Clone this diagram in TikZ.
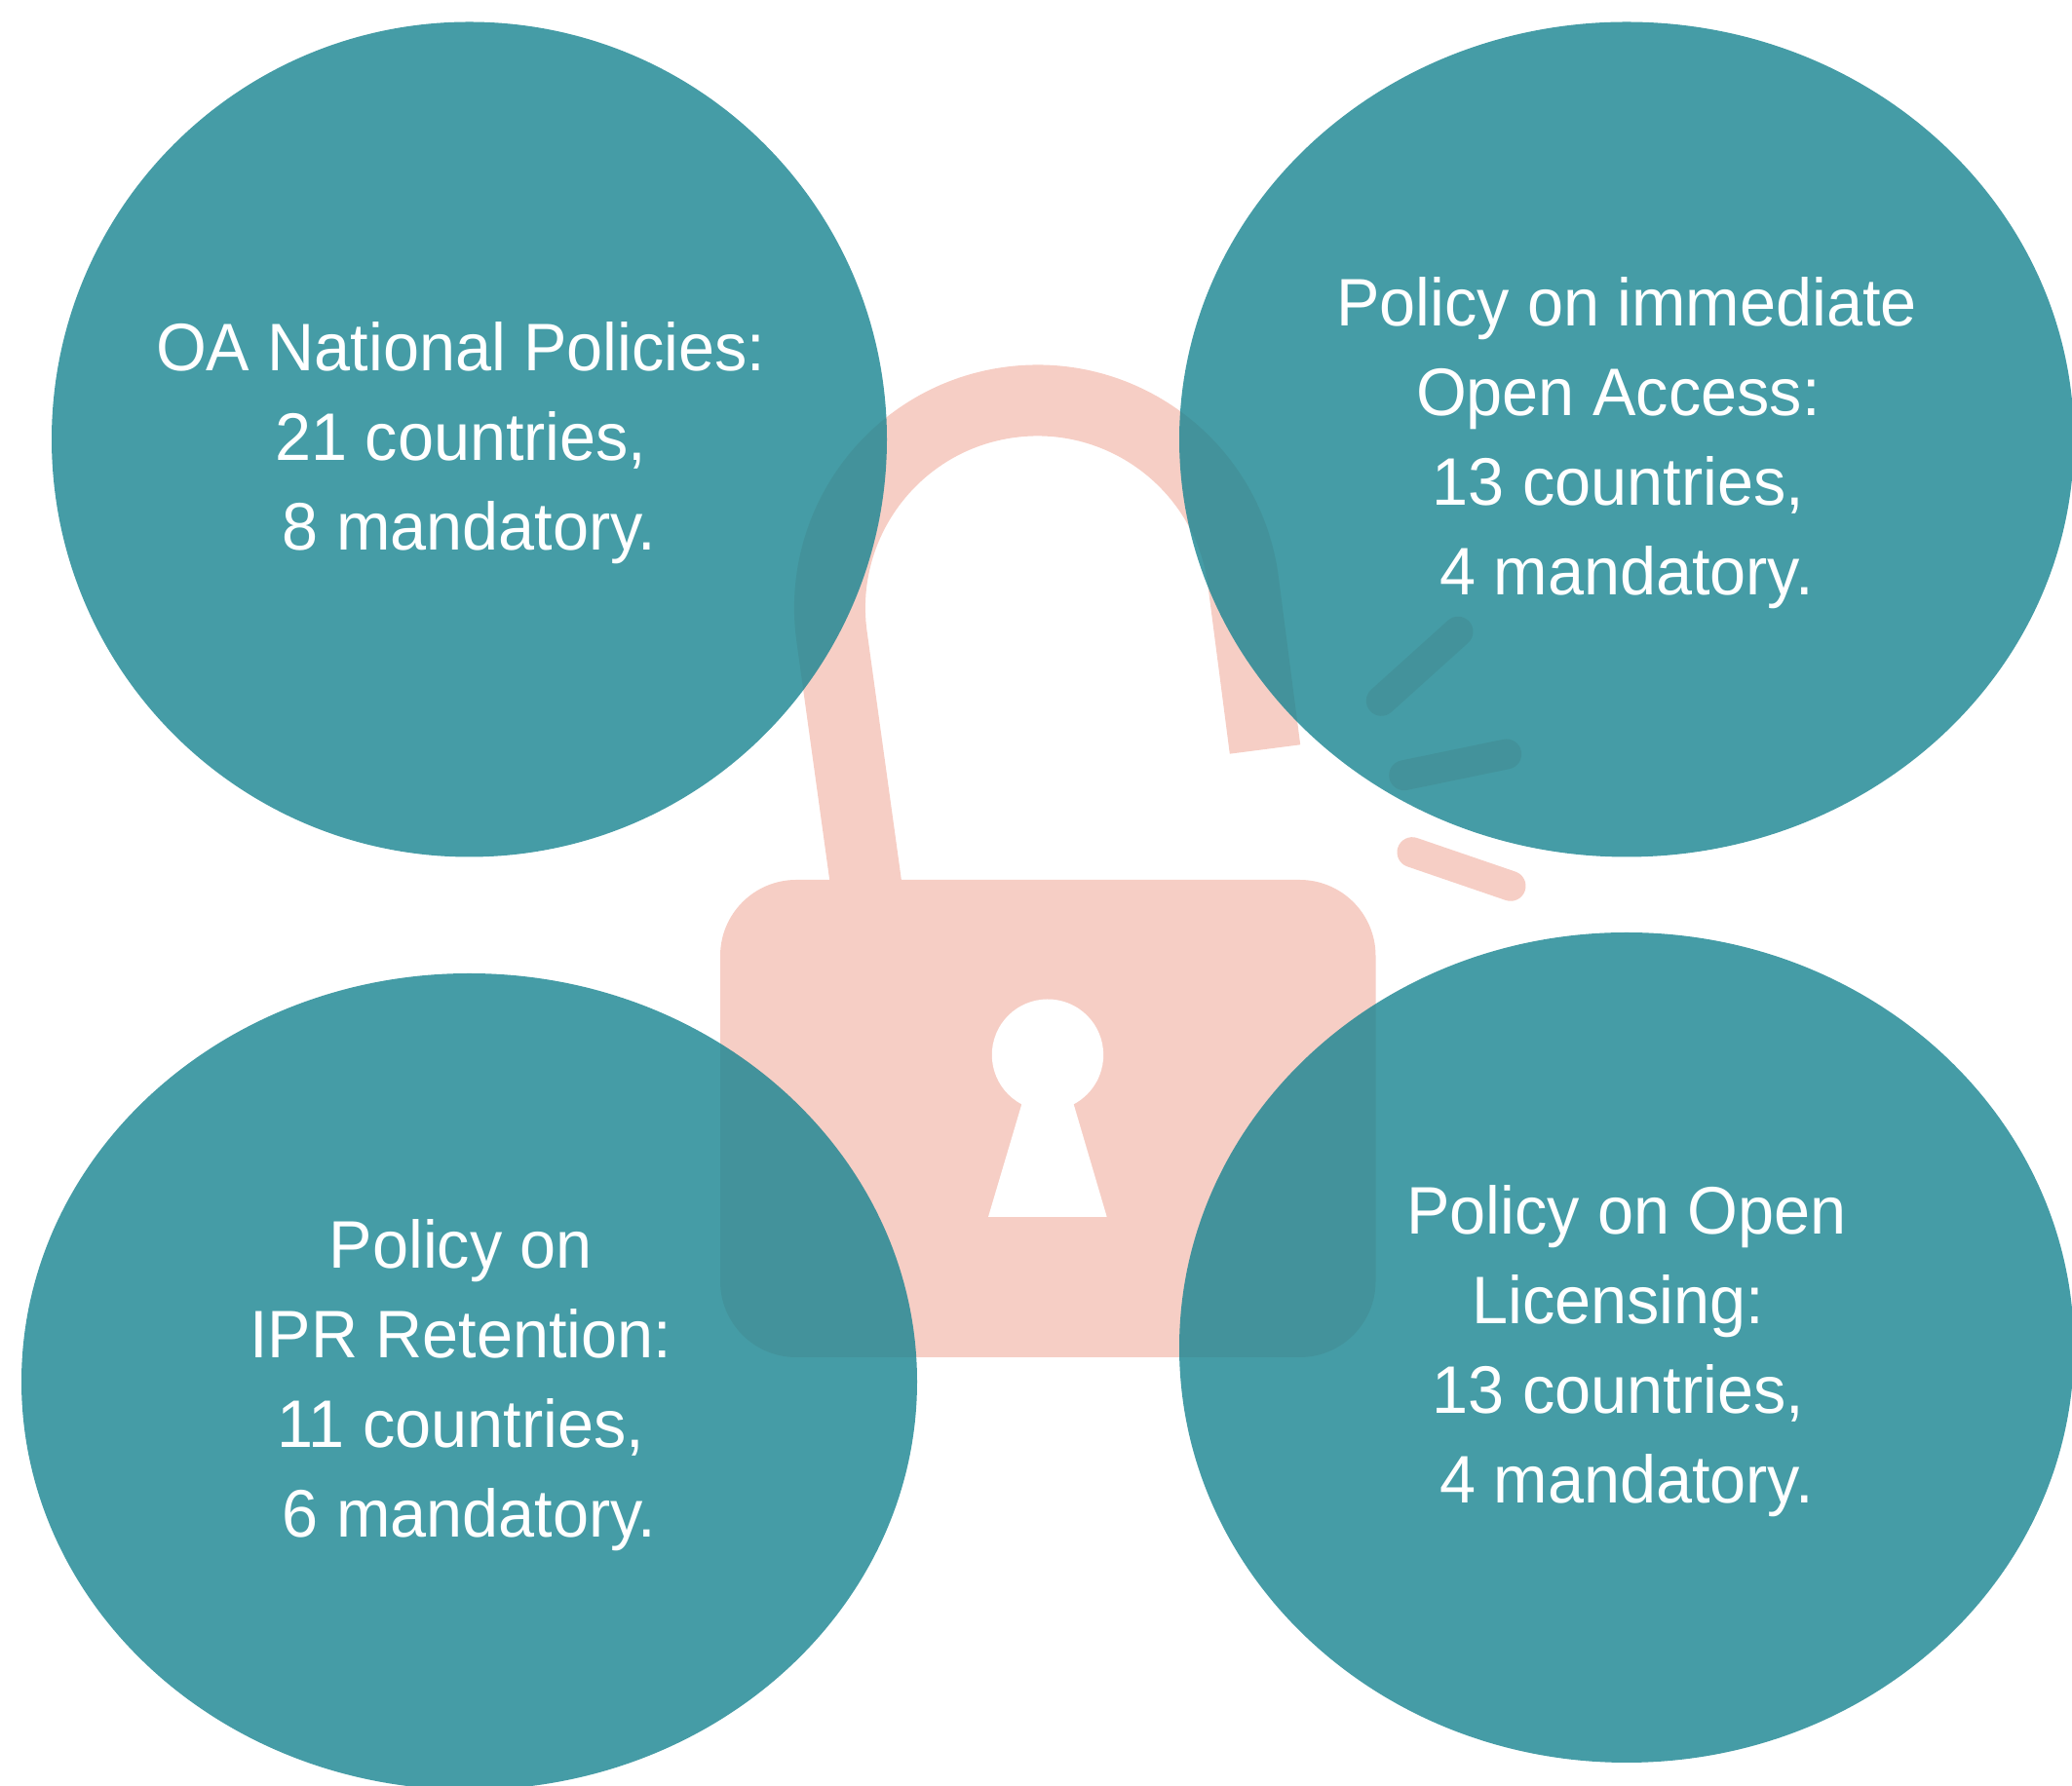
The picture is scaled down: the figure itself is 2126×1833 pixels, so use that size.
\documentclass[tikz,border=0pt]{standalone}
\usepackage{fontspec}
\setmainfont[FakeStretch=0.965]{Liberation Sans}
\usetikzlibrary{shapes.geometric,calc}
\definecolor{lockpink}{RGB}{246,206,197}
\definecolor{tealblob}{RGB}{28,134,146}
\tikzset{
  x=1pt,y=1pt,
  lockfill/.style={fill=lockpink,draw=none},
  lockline/.style={draw=lockpink,line width=73pt,line cap=butt,line join=round},
  sparkline/.style={draw=lockpink,line width=31pt,line cap=round},
  blob/.style={ellipse,fill=tealblob,fill opacity=0.82,draw=none,
    inner sep=0pt,outer sep=0pt},
  blobtext/.style={text=white,inner sep=0pt,outer sep=0pt,align=center,
    font=\fontsize{69}{92}\selectfont},
}
\newcommand{\tsp}{\rule{0.25em}{0pt}}
\begin{document}
\begin{tikzpicture}
\useasboundingbox (0,0) rectangle (2126,1833);
\clip (0,0) rectangle (2126,1833);
% shackle
\draw[lockline] (889.4,920) -- (853.2,1181.6) arc[start angle=187.4,end angle=7.4,radius=213pt] -- (1298,1064);
% lock body
\fill[lockfill,rounded corners=78pt] (739,440) rectangle (1411.5,930);
% keyhole
\fill[white] (1014,584) -- (1048.3,699.7) arc[start angle=242.2,end angle=-62.2,radius=57.2pt] -- (1135.7,584) -- cycle;
% sparks
\draw[sparkline] (1417.3,1113.7) -- (1496,1184.7);
\draw[sparkline] (1440.7,1037.3) -- (1545.7,1059);
\draw[sparkline] (1449,958.3) -- (1550,923.7);
% bubbles
\node[blob,minimum width=857pt,minimum height=857pt] (national) at (481.5,1382) {};
\node[blob,minimum width=918pt,minimum height=857pt] (immediate) at (1669,1382) {};
\node[blob,minimum width=919pt,minimum height=838pt] (ipr) at (481.5,415) {};
\node[blob,minimum width=918pt,minimum height=852pt] (licensing) at (1669,450) {};
% bubble texts
\node[blobtext] (nationaltext) at ($(national)+(0,-4)$)
  {OA National Policies:\tsp\\21 countries,\tsp\\8 mandatory.};
\node[blobtext] (immediatetext) at ($(immediate)+(0,-4)$)
  {Policy on immediate\\Open Access:\tsp\\13 countries,\tsp\\4 mandatory.};
\node[blobtext] (iprtext) at ($(ipr)+(0,-4)$)
  {Policy on\tsp\\IPR Retention:\tsp\\11 countries,\tsp\\6 mandatory.};
\node[blobtext] (licensingtext) at ($(licensing)+(0,-4)$)
  {Policy on Open\\Licensing:\tsp\\13 countries,\tsp\\4 mandatory.};
\end{tikzpicture}
\end{document}
